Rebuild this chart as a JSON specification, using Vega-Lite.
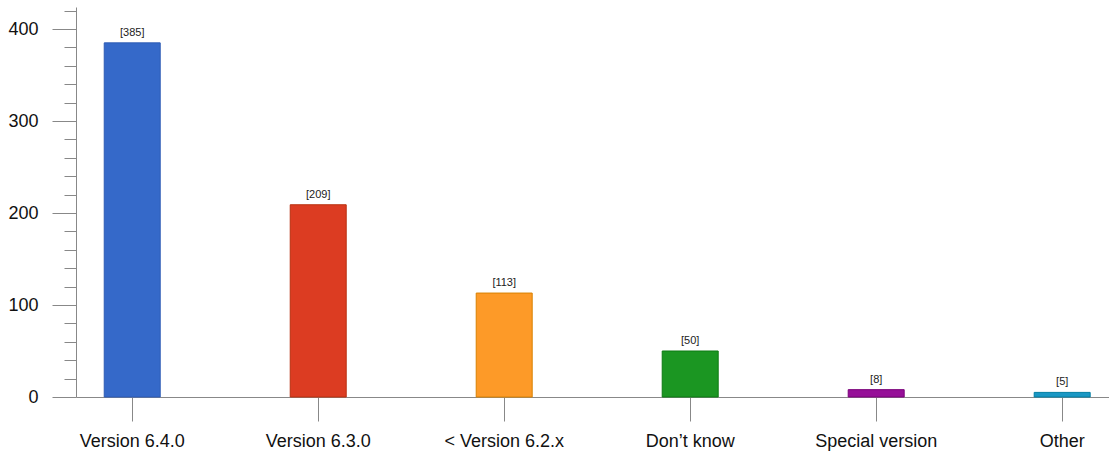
{
  "$schema": "https://vega.github.io/schema/vega-lite/v6.json",
  "width": 1033,
  "height": 390,
  "autosize": "none",
  "padding": {"left": 76, "top": 7, "right": 0, "bottom": 56},
  "background": "white",
  "config": {"view": {"stroke": null}, "font": "Liberation Sans"},
  "data": {"values": [
    {"cat": "Version 6.4.0", "n": 385, "lbl": "[385]", "c": "#3569c9", "s": "#2d5bb5"},
    {"cat": "Version 6.3.0", "n": 209, "lbl": "[209]", "c": "#dc3c22", "s": "#b8300f"},
    {"cat": "< Version 6.2.x", "n": 113, "lbl": "[113]", "c": "#fd9a28", "s": "#d98200"},
    {"cat": "Don’t know", "n": 50, "lbl": "[50]", "c": "#1b9622", "s": "#0d7a13"},
    {"cat": "Special version", "n": 8, "lbl": "[8]", "c": "#960f98", "s": "#7a007a"},
    {"cat": "Other", "n": 5, "lbl": "[5]", "c": "#1a97c4", "s": "#007ea3"}
  ]},
  "encoding": {
    "x": {
      "field": "cat", "type": "nominal", "sort": null,
      "scale": {"paddingInner": 0.699, "paddingOuter": 0.1265, "align": 0.6},
      "axis": {
        "title": null, "labelAngle": 0, "tickSize": 24, "labelPadding": 11,
        "labelFontSize": 18, "labelColor": "#111", "labelFont": "Liberation Sans",
        "domainColor": "#888", "tickColor": "#888", "domainWidth": 1, "tickWidth": 1
      }
    },
    "y": {
      "field": "n", "type": "quantitative",
      "scale": {"domain": [0, 424], "nice": false, "zero": true},
      "axis": {
        "title": null, "grid": false,
        "values": [0, 20, 40, 60, 80, 100, 120, 140, 160, 180, 200, 220, 240, 260, 280, 300, 320, 340, 360, 380, 400, 420],
        "tickSize": {"condition": {"test": "datum.value % 100 === 0", "value": 24}, "value": 12},
        "labelExpr": "datum.value % 100 === 0 ? datum.label : ''",
        "labelPadding": 14, "labelFontSize": 18, "labelColor": "#111",
        "labelFont": "Liberation Sans",
        "domainColor": "#888", "tickColor": "#888", "domainWidth": 1, "tickWidth": 1
      }
    }
  },
  "layer": [
    {
      "mark": {"type": "bar", "strokeWidth": 1},
      "encoding": {
        "color": {"field": "c", "type": "nominal", "scale": null, "legend": null},
        "stroke": {"field": "s", "type": "nominal", "scale": null, "legend": null}
      }
    },
    {
      "mark": {"type": "text", "baseline": "bottom", "dy": -5, "fontSize": 11, "color": "#222", "font": "Liberation Sans"},
      "encoding": {"text": {"field": "lbl"}}
    }
  ]
}
